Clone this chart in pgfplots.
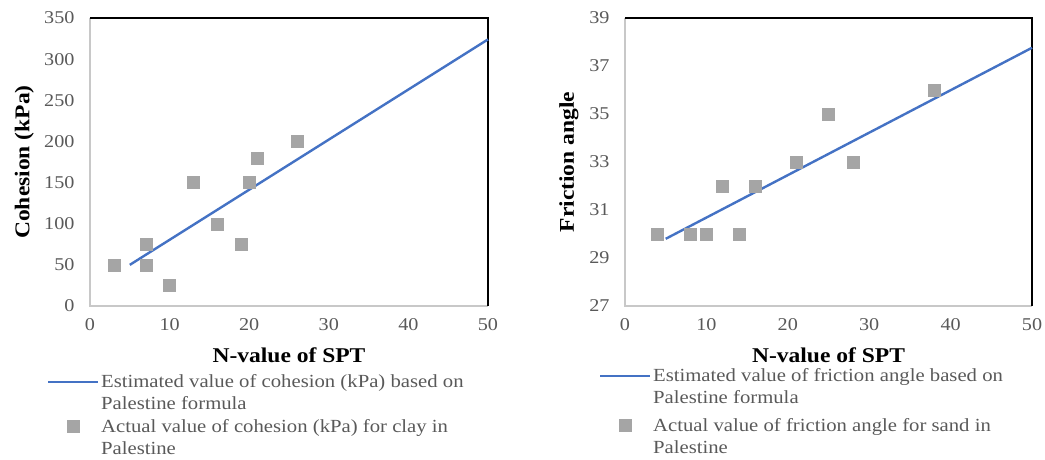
\documentclass[border=0pt]{standalone}
\usepackage{fontspec}
\setmainfont{Liberation Serif}[FakeStretch=1.12]
\usepackage{pgfplots}
\pgfplotsset{compat=1.18}
\definecolor{lblue}{HTML}{4472C4}
\definecolor{mgray}{HTML}{A5A5A5}
\definecolor{tgray}{HTML}{595959}
\definecolor{agray}{HTML}{C8C8C8}
\pgfplotsset{
  myaxis/.style={
    scale only axis,
    axis line style={draw=none},
    major tick length=0pt,
    xmin=0, xmax=50, xtick={0,10,...,50},
    tick label style={font=\fontsize{18}{20}\selectfont, text=tgray},
    xticklabel style={yshift=-9pt},
    yticklabel style={xshift=-12pt},
    /pgf/number format/assume math mode=true,
    xlabel style={font=\fontsize{21}{24}\selectfont\bfseries, at={(axis description cs:0.5,0)}, anchor=center, yshift=-49pt},
    ylabel style={font=\fontsize{21}{24}\selectfont\bfseries, anchor=center},
    clip=false,
    legend cell align=left,
    legend style={draw=none, fill=none, font=\fontsize{18.5}{22}\selectfont, text=tgray,
      cells={align=left}, inner sep=0pt,
      nodes={inner sep=1.5pt},
      /tikz/every even column/.append style={column sep=0pt}},
    legend image code/.code={\draw[#1] (0pt,11pt) -- (50pt,11pt);},
  },
  markleg/.style={legend image code/.code={\fill[mgray] (19pt,5pt) rectangle (31pt,17pt);}},
}
\begin{document}
\begin{tikzpicture}[x=1pt,y=1pt]
\useasboundingbox (0,0) rectangle (1045,459);
\begin{axis}[myaxis,
  at={(90pt,153pt)}, anchor=south west, width=398pt, height=288pt,
  ymin=0, ymax=350, ytick={0,50,...,350},
  xlabel={N-value of SPT}, ylabel={Cohesion (kPa)},
  ylabel style={at={(axis description cs:-0.165,0.5)}},
  legend style={at={(axis description cs:0,0)}, anchor=north west, xshift=-43pt, yshift=-67pt, row sep=5pt},
]
\draw[agray, line width=1.3pt] (rel axis cs:0,1) -- (rel axis cs:0,0) -- (rel axis cs:1,0);
\draw[black, line width=1.3pt] (rel axis cs:0,1) -- (rel axis cs:1,1) -- (rel axis cs:1,0);
\addplot[lblue, line width=2.4pt] coordinates {(5,50) (50,324)};
\addlegendentry{Estimated value of cohesion (kPa) based on\\Palestine formula}
\addplot[only marks, mark=square*, mark size=6pt, mark options={fill=mgray, draw=mgray}, markleg] coordinates {
(3,50) (7,75) (7,50) (10,25) (13,150) (16,100) (19,75) (20,150) (21,180) (26,200)};
\addlegendentry{Actual value of cohesion (kPa) for clay in\\Palestine}
\end{axis}
\begin{axis}[myaxis,
  at={(625pt,153pt)}, anchor=south west, width=407pt, height=288pt,
  ymin=27, ymax=39, ytick={27,29,...,39},
  xlabel={N-value of SPT}, ylabel={Friction angle},
  ylabel style={at={(axis description cs:-0.138,0.5)}},
  legend style={at={(axis description cs:0,0)}, anchor=north west, xshift=-26pt, yshift=-61pt, row sep=10pt},
]
\draw[agray, line width=1.3pt] (rel axis cs:0,1) -- (rel axis cs:0,0) -- (rel axis cs:1,0);
\draw[black, line width=1.3pt] (rel axis cs:0,1) -- (rel axis cs:1,1) -- (rel axis cs:1,0);
\addplot[lblue, line width=2.4pt] coordinates {(5,29.8) (50,37.76)};
\addlegendentry{Estimated value of friction angle based on\\Palestine formula}
\addplot[only marks, mark=square*, mark size=6pt, mark options={fill=mgray, draw=mgray}, markleg] coordinates {
(4,30) (8,30) (10,30) (12,32) (14,30) (16,32) (21,33) (25,35) (28,33) (38,36)};
\addlegendentry{Actual value of friction angle for sand in\\Palestine}
\end{axis}
\end{tikzpicture}
\end{document}
